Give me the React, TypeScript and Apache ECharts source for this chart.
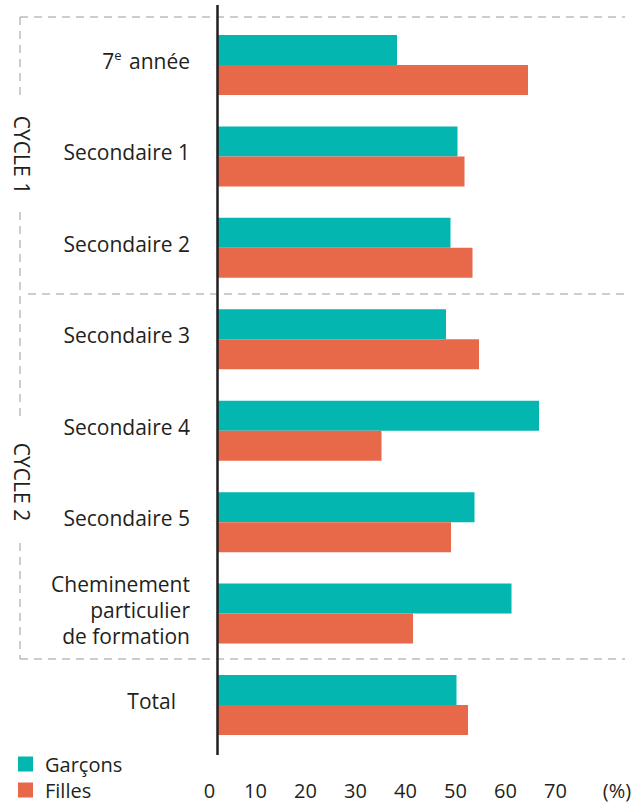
import React, { useEffect, useRef } from "react";
import * as echarts from "echarts";

const categories = [
  "7e année",
  "Secondaire 1",
  "Secondaire 2",
  "Secondaire 3",
  "Secondaire 4",
  "Secondaire 5",
  "Cheminement particulier de formation",
  "Total",
];
const garcons = [37.1, 49.2, 47.8, 46.9, 65.5, 52.6, 60.0, 49.0];
const filles = [63.3, 50.6, 52.2, 53.5, 34.0, 47.9, 40.3, 51.3];
const tickValues = [0, 10, 20, 30, 40, 50, 60, 70];
const unitLabel = "(%)";
const cycleLabels = ["CYCLE 1", "CYCLE 2"];

const TEAL = "#03b6b0";
const ORANGE = "#e8694a";
const INK = "#231f20";
const DASH = "#9a9a9a";
const FONT = "Open Sans";

export default function App() {
  const ref = useRef<HTMLDivElement>(null);
  useEffect(() => {
    if (!ref.current) return;
    const chart = echarts.init(ref.current, null, { renderer: "svg" });
    const dashStyle = { stroke: DASH, lineWidth: 1, lineDash: [8, 6] };
    const option: any = {
      animation: false,
      backgroundColor: "#ffffff",
      textStyle: { fontFamily: FONT },
      grid: [
        { left: 218, width: 400, top: 19.3, height: 731.4, containLabel: false },
        { left: 205.5, width: 400, top: 760, height: 10, containLabel: false },
      ],
      xAxis: [
        {
          type: "value",
          gridIndex: 0,
          min: 1.3,
          max: 81.3,
          axisLine: { show: false },
          axisTick: { show: false },
          axisLabel: { show: false },
          splitLine: { show: false },
        },
        {
          type: "value",
          gridIndex: 1,
          min: 0,
          max: 80,
          interval: 10,
          axisLine: { show: false },
          axisTick: { show: false },
          splitLine: { show: false },
          axisLabel: {
            margin: 10,
            fontSize: 20,
            color: INK,
            fontFamily: FONT,
            formatter: (v: number) =>
              tickValues.indexOf(v) < 0 ? "" : v === 0 ? "{z|0}" : String(v),
            rich: {
              z: { padding: [0, 0, 0, 8], fontSize: 20, color: INK, fontFamily: FONT },
            },
          },
        },
      ],
      yAxis: [
        {
          type: "category",
          gridIndex: 0,
          inverse: true,
          data: categories,
          axisLine: { show: false },
          axisTick: { show: false },
          splitLine: { show: false },
          axisLabel: {
            margin: 28,
            fontSize: 21,
            lineHeight: 26,
            padding: [0, 0, 8, 0],
            color: INK,
            fontFamily: FONT,
            formatter: (v: string) => {
              if (v === "7e année") return "7{sup|e} année";
              if (v === "Total") return "{t|Total}";
              if (v.startsWith("Cheminement"))
                return "Cheminement\nparticulier\nde formation";
              return v;
            },
            rich: {
              sup: {
                fontSize: 13,
                lineHeight: 13,
                verticalAlign: "top",
                padding: [0, 2, 0, 0],
                color: INK,
                fontFamily: FONT,
              },
              t: {
                fontSize: 21,
                lineHeight: 26,
                padding: [0, 14, 0, 0],
                color: INK,
                fontFamily: FONT,
              },
            },
          },
        },
        { type: "value", gridIndex: 1, show: false, min: 0, max: 1 },
      ],
      legend: {
        orient: "vertical",
        left: 18,
        top: 753,
        padding: 0,
        height: 50,
        itemWidth: 15,
        itemHeight: 15,
        itemGap: 4,
        icon: "rect",
        data: ["Garçons", "Filles"],
        textStyle: {
          fontSize: 20,
          lineHeight: 22,
          color: INK,
          fontFamily: FONT,
          padding: [0, 0, 0, 7],
        },
      },
      series: [
        {
          name: "Garçons",
          type: "bar",
          xAxisIndex: 0,
          yAxisIndex: 0,
          data: garcons,
          barWidth: 30,
          barGap: "0%",
          itemStyle: { color: TEAL },
        },
        {
          name: "Filles",
          type: "bar",
          xAxisIndex: 0,
          yAxisIndex: 0,
          data: filles,
          barWidth: 30,
          barGap: "0%",
          itemStyle: { color: ORANGE },
        },
      ],
      graphic: [
        { type: "line", shape: { x1: 20, y1: 17, x2: 625, y2: 17 }, style: dashStyle },
        { type: "line", shape: { x1: 28, y1: 294, x2: 625, y2: 294 }, style: dashStyle },
        { type: "line", shape: { x1: 20, y1: 659, x2: 625, y2: 659 }, style: dashStyle },
        { type: "line", shape: { x1: 20, y1: 17, x2: 20, y2: 99 }, style: dashStyle },
        { type: "line", shape: { x1: 20, y1: 212, x2: 20, y2: 420 }, style: dashStyle },
        { type: "line", shape: { x1: 20, y1: 543, x2: 20, y2: 659 }, style: dashStyle },
        {
          type: "text",
          x: 22,
          y: 155,
          rotation: -Math.PI / 2,
          style: {
            text: cycleLabels[0],
            fontSize: 21,
            fontFamily: FONT,
            fill: INK,
            align: "center",
            verticalAlign: "middle",
          },
        },
        {
          type: "text",
          x: 22,
          y: 482,
          rotation: -Math.PI / 2,
          style: {
            text: cycleLabels[1],
            fontSize: 21,
            fontFamily: FONT,
            fill: INK,
            align: "center",
            verticalAlign: "middle",
          },
        },
        {
          type: "line",
          z: 100,
          shape: { x1: 217.5, y1: 5, x2: 217.5, y2: 755 },
          style: { stroke: INK, lineWidth: 2.5 },
        },
        {
          type: "text",
          x: 617,
          y: 790,
          style: {
            text: unitLabel,
            fontSize: 20,
            fontFamily: FONT,
            fill: INK,
            align: "center",
            verticalAlign: "middle",
          },
        },
      ],
    };
    chart.setOption(option);
    return () => chart.dispose();
  }, []);
  return (
    <div
      ref={ref}
      style={{ position: "fixed", left: 0, top: 0, width: 641, height: 803 }}
    />
  );
}
